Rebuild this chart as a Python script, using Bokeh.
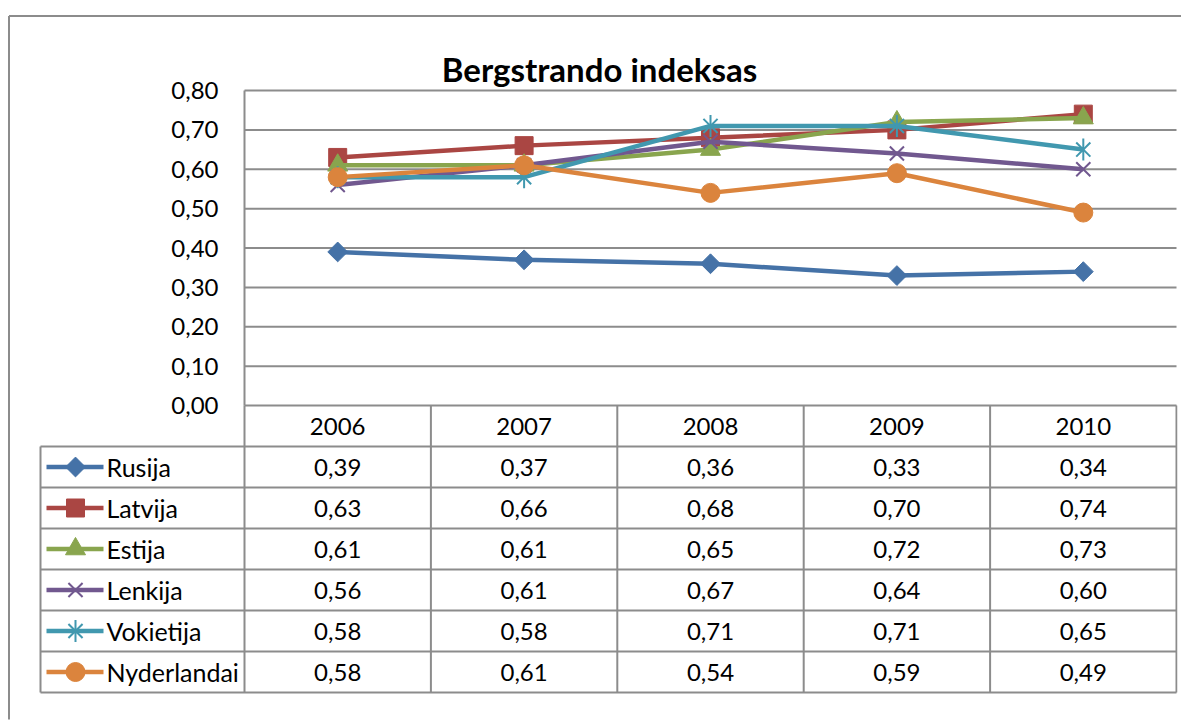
from bokeh.plotting import figure
from bokeh.models import Range1d
from bokeh.embed import file_html
from bokeh.resources import INLINE
from bokeh.core.properties import value
import math

# ---------------- data ----------------
title_text = "Bergstrando indeksas"
years = ["2006", "2007", "2008", "2009", "2010"]
series_names = ["Rusija", "Latvija", "Estija", "Lenkija", "Vokietija", "Nyderlandai"]
rusija = [0.39, 0.37, 0.36, 0.33, 0.34]
latvija = [0.63, 0.66, 0.68, 0.70, 0.74]
estija = [0.61, 0.61, 0.65, 0.72, 0.73]
lenkija = [0.56, 0.61, 0.67, 0.64, 0.60]
vokietija = [0.58, 0.58, 0.71, 0.71, 0.65]
nyderlandai = [0.58, 0.61, 0.54, 0.59, 0.49]
y_ticks = [0.0, 0.1, 0.2, 0.3, 0.4, 0.5, 0.6, 0.7, 0.8]

series_values = [rusija, latvija, estija, lenkija, vokietija, nyderlandai]
colors = ["#4572A7", "#AA4643", "#89A54E", "#71588F", "#4198AF", "#DB843D"]
kinds = ["diamond", "square", "triangle", "x", "star", "circle"]

# ---------------- layout constants (pixels) ----------------
FONT = "Lato"
GRAY = "#8c8c8c"
W, H = 1181, 720          # canvas = frame
PLOT_L = 244              # left of plot area
PLOT_R = 1176             # right of plot area
ZERO_Y = 405              # y of value 0
TOP_Y = 90                # y of top tick
ROW = 41.0                # table row height
LEG_L = 40                # left edge of legend column
BORDER_X, BORDER_Y = 8.5, 15.5

n_cat = len(years)
PX_X = (PLOT_R - PLOT_L) / n_cat
PX_Y = (ZERO_Y - TOP_Y) / y_ticks[-1]


def xd(px):   # canvas px -> x data
    return -0.5 + (px - PLOT_L) / PX_X


def yd(py):   # canvas py -> value data
    return (ZERO_Y - py) / PX_Y


def rd(py):   # canvas py -> table row units
    return (py - ZERO_Y) / ROW


xs = list(range(n_cat))

p = figure(width=W, height=H, output_backend="svg", toolbar_location=None,
           tools="", x_axis_location=None, y_axis_location=None,
           x_range=Range1d(xd(0), xd(W)), y_range=Range1d(yd(H), yd(0)),
           min_border_left=0, min_border_right=0, min_border_top=0,
           min_border_bottom=0)
p.extra_y_ranges = {"table": Range1d(rd(H), rd(0))}
p.outline_line_color = None
p.outline_line_alpha = 0
p.grid.visible = False
p.background_fill_color = "white"
p.border_fill_color = "white"


def marker(x, y, kind, c, **kw):
    if kind == "diamond":
        p.scatter(x, y, marker="square", angle=math.pi / 4, size=14,
                  fill_color=c, line_color=c, **kw)
    elif kind == "square":
        p.scatter(x, y, marker="square", size=18, fill_color=c, line_color=c, **kw)
    elif kind == "triangle":
        p.scatter(x, y, marker="triangle", size=20, fill_color=c, line_color=c, **kw)
    elif kind == "x":
        p.scatter(x, y, marker="x", size=20, line_color=c, line_width=2, **kw)
    elif kind == "star":
        p.scatter(x, y, marker="x", size=20, line_color=c, line_width=2, **kw)
        p.scatter(x, y, marker="dash", angle=math.pi / 2, size=22,
                  line_color=c, line_width=2, **kw)
    elif kind == "circle":
        p.scatter(x, y, marker="circle", size=19, fill_color=c, line_color=c, **kw)


# outer chart border: left edge and top edge as separate segments
p.segment(x0=[xd(BORDER_X)], x1=[xd(BORDER_X)], y0=[yd(BORDER_Y)], y1=[yd(H - 1)],
          line_color=GRAY, line_width=2)
p.segment(x0=[xd(BORDER_X)], x1=[xd(W)], y0=[yd(BORDER_Y)], y1=[yd(BORDER_Y)],
          line_color=GRAY, line_width=2)

# value gridlines and axis line
p.segment(x0=[-0.5] * len(y_ticks), x1=[n_cat - 0.5] * len(y_ticks), y0=y_ticks, y1=y_ticks,
          line_color=GRAY, line_width=2)
p.segment(x0=[-0.5], x1=[-0.5], y0=[0], y1=[y_ticks[-1]], line_color=GRAY, line_width=2)

# tick labels
p.text(x=[-0.5] * len(y_ticks), y=y_ticks,
       text=[f"{v:.2f}".replace(".", ",") for v in y_ticks],
       x_offset=-26, text_font=value(FONT), text_font_size="24px",
       text_align="right", text_baseline="middle", text_color="black")

# title
p.text(x=[xd(599)], y=[yd(68)], text=[title_text], text_font=value(FONT),
       text_font_style="bold", text_font_size="33px", text_align="center",
       text_baseline="alphabetic", text_color="black")

# series
for vals, c, k in zip(series_values, colors, kinds):
    p.line(xs, vals, line_width=4.5, line_color=c)
    marker(xs, vals, k, c)

# ---------------- data table ----------------
n_rows = len(series_names) + 1
x_left = xd(LEG_L)
hy = list(range(1, n_rows + 1))
p.segment(x0=[x_left] * len(hy), x1=[n_cat - 0.5] * len(hy), y0=hy, y1=hy,
          line_color=GRAY, line_width=2, y_range_name="table")
vx = [i - 0.5 for i in range(n_cat + 1)]
p.segment(x0=vx, x1=vx, y0=[0] * len(vx), y1=[n_rows] * len(vx),
          line_color=GRAY, line_width=2, y_range_name="table")
p.segment(x0=[x_left], x1=[x_left], y0=[1], y1=[n_rows], line_color=GRAY,
          line_width=2, y_range_name="table")

p.text(x=xs, y=[0.5] * n_cat, text=years, text_font=value(FONT),
       text_font_size="24px", text_align="center", text_baseline="middle",
       text_color="black", y_range_name="table")

for r, (name, vals, c, k) in enumerate(zip(series_names, series_values, colors, kinds)):
    yc = r + 1.5
    p.text(x=xs, y=[yc] * len(vals),
           text=[f"{v:.2f}".replace(".", ",") for v in vals],
           text_font=value(FONT), text_font_size="24px", text_align="center",
           text_baseline="middle", text_color="black", y_range_name="table")
    p.segment(x0=[x_left + 6 / PX_X], x1=[x_left + 63 / PX_X], y0=[yc], y1=[yc],
              line_color=c, line_width=4.5, y_range_name="table")
    marker([x_left + 35 / PX_X], [yc], k, c, y_range_name="table")
    p.text(x=[x_left + 66 / PX_X], y=[yc], text=[name], text_font=value(FONT),
           text_font_size="25px", text_align="left", text_baseline="middle",
           text_color="black", y_range_name="table")

# white strip at the far right edge, below the top border
p.segment(x0=[xd(W - 2)], x1=[xd(W - 2)], y0=[yd(BORDER_Y + 2)], y1=[yd(H)],
          line_color="white", line_width=4, level="overlay")

open("out.html", "w").write(file_html(p, INLINE))
